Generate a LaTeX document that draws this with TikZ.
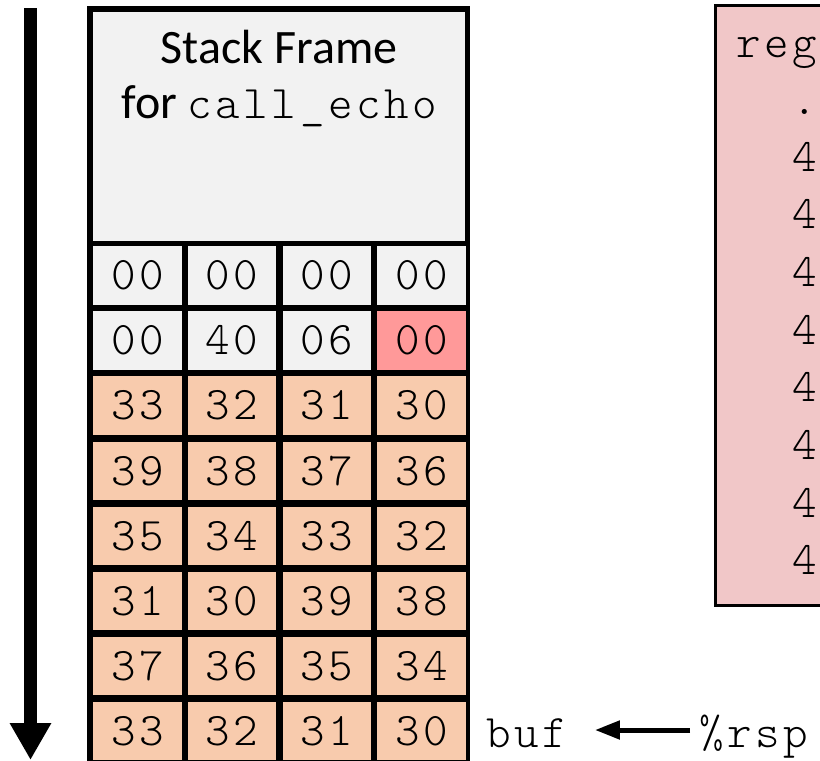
\documentclass[tikz,border=0pt]{standalone}
\usepackage{fontspec}
\setmainfont{Carlito}
\newfontfamily\monofamily{lmmonolt10-regular.otf}[LetterSpace=7.5]
\usetikzlibrary{arrows.meta}
\definecolor{framegray}{HTML}{F2F2F2}
\definecolor{peach}{HTML}{F8CBAD}
\definecolor{hotcell}{HTML}{FF9999}
\definecolor{regpink}{HTML}{F1C7C8}
\newcommand\cellfont{\monofamily\fontsize{46.7}{56}\selectfont}
\newcommand\framefont{\fontsize{48}{57}\selectfont}
\begin{document}
\begin{tikzpicture}[x=1pt,y=-1pt,
  cell/.style={draw=none, inner sep=0pt, minimum width=88.5pt, minimum height=58.5pt, anchor=north west, font=\cellfont},
  monotext/.style={anchor=base west, font=\cellfont, inner sep=0pt},
  block/.style={anchor=north west, inner sep=0pt}]
\clip (0,0) rectangle (820,761);
\fill[white] (0,0) rectangle (820,761);
% direction arrow
\coordinate (atop) at (30.5,8);
\coordinate (abot) at (30.5,760);
\draw[line width=13pt, -{Triangle[length=37pt,width=39pt]}] (atop) -- (abot);
% stack
\node[block, fill=black, minimum width=383pt, minimum height=800pt] (stack) at (87,6) {};
\node[block, fill=framegray, minimum width=372pt, minimum height=229pt] (frame) at (93,12) {};
\node[anchor=base, font=\framefont, inner sep=0pt] (t1) at (279,63) {Stack Frame};
\node[anchor=base, font=\framefont, inner sep=0pt] (t2) at (279,118) {for {\cellfont call\char"5F echo}};
% top two rows
\foreach \v [count=\k from 0] in {00,00,00,00}{
  \node[cell, fill=framegray] (c0-\k) at ({93+94.7*\k},246) {\v};
}
\foreach \v/\col [count=\k from 0] in {00/framegray,40/framegray,06/framegray,00/hotcell}{
  \node[cell, fill=\col] (c1-\k) at ({93+94.7*\k},{246+65.1}) {\v};
}
\foreach \a/\b/\c/\d [count=\r from 2] in {33/32/31/30,39/38/37/36,35/34/33/32,31/30/39/38,37/36/35/34,33/32/31/30}{
  \foreach \v [count=\k from 0] in {\a,\b,\c,\d}{
    \node[cell, fill=peach] (c\r-\k) at ({93+94.7*\k},{246+65.1*\r}) {\v};
  }
}
% buf pointer
\node[monotext, text height=20pt, text depth=0pt] (buf) at (486,747) {buf};
\node[monotext, text height=20pt, text depth=0pt] (rsp) at (699,747) {\%rsp};
\draw[line width=5pt, -{Triangle[length=25pt,width=18pt]}] ([xshift=-9pt,yshift=7pt]rsp.west) -- ([xshift=28pt,yshift=7pt]buf.east);
% register box (cut off at right)
\node[block, draw=black, line width=2.5pt, fill=regpink, minimum width=200pt, minimum height=600pt] (regbox) at (714,4) {};
\node[monotext] (reg) at (736,57) {reg};
\node[monotext] (dot) at (792,114) {.};
\foreach \k in {0,...,7}{
  \node[monotext] (four\k) at (792,{171+57.7*\k}) {4};
}
\end{tikzpicture}
\end{document}
